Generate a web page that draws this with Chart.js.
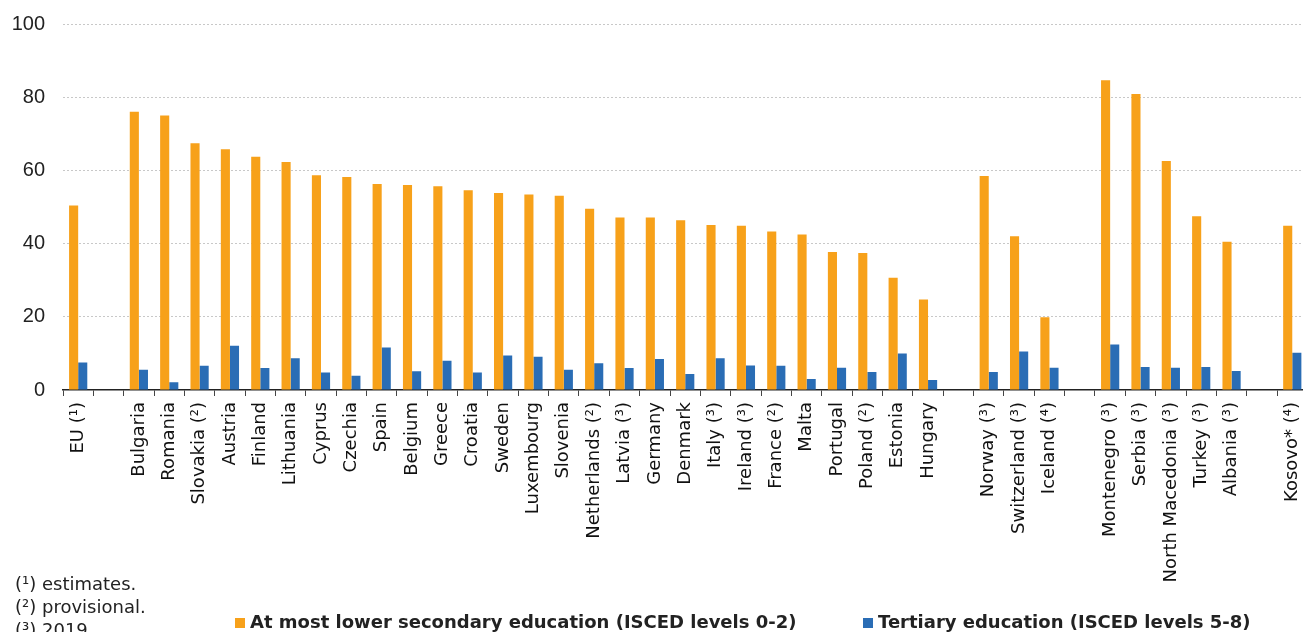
<!DOCTYPE html>
<html>
<head>
<meta charset="utf-8">
<script src="https://cdn.jsdelivr.net/npm/chart.js@4"></script>
<style>
  html, body { margin: 0; padding: 0; background: #fff; overflow: hidden; }
  #wrap { position: relative; width: 1303px; height: 632px; overflow: hidden; }
  canvas { position: absolute; left: 0; top: -6px; }
  .note { position: absolute; left: 15px; font-family: "DejaVu Sans", sans-serif; font-size: 18px; line-height: 23px; color: #222; white-space: nowrap; }
  .leg { position: absolute; top: 610px; font-family: "DejaVu Sans", sans-serif; font-weight: bold; font-size: 18px; line-height: 23px; color: #222; white-space: nowrap; }
  .sq { position: absolute; width: 10px; height: 10px; top: 618px; }
</style>
</head>
<body>
<div id="wrap">
  <canvas id="c" width="1320" height="638"></canvas>
  <div id="notes"></div>
  <div id="legend"></div>
</div>
<script>
const categories = ['EU (¹)', '', 'Bulgaria', 'Romania', 'Slovakia (²)', 'Austria', 'Finland', 'Lithuania', 'Cyprus', 'Czechia', 'Spain', 'Belgium', 'Greece', 'Croatia', 'Sweden', 'Luxembourg', 'Slovenia', 'Netherlands (²)', 'Latvia (³)', 'Germany', 'Denmark', 'Italy (³)', 'Ireland (³)', 'France (²)', 'Malta', 'Portugal', 'Poland (²)', 'Estonia', 'Hungary', '', 'Norway (³)', 'Switzerland (³)', 'Iceland (⁴)', '', 'Montenegro (³)', 'Serbia (³)', 'North Macedonia (³)', 'Turkey (³)', 'Albania (³)', '', 'Kosovo* (⁴)'];

const lowerSecondary = [50.4, null, 76.0, 75.0, 67.4, 65.8, 63.7, 62.3, 58.7, 58.2, 56.3, 56.0, 55.7, 54.6, 53.8, 53.4, 53.1, 49.5, 47.1, 47.1, 46.4, 45.1, 44.9, 43.3, 42.5, 37.7, 37.4, 30.7, 24.7, null, 58.5, 42.0, 19.9, null, 84.6, 80.9, 62.6, 47.5, 40.5, null, 44.9];

const tertiary = [7.5, null, 5.5, 2.1, 6.6, 12.1, 6.0, 8.7, 4.8, 3.9, 11.6, 5.1, 8.0, 4.8, 9.4, 9.1, 5.5, 7.3, 6.0, 8.5, 4.4, 8.7, 6.7, 6.6, 3.0, 6.1, 4.9, 10.0, 2.7, null, 4.9, 10.5, 6.1, null, 12.4, 6.3, 6.1, 6.3, 5.2, null, 10.2];

const yTicks = [0, 20, 40, 60, 80, 100];

const seriesNames = ['At most lower secondary education (ISCED levels 0-2)', 'Tertiary education (ISCED levels 5-8)'];
const seriesColors = ['#F7A11A', '#2A6DB5'];

const footnotes = ['(¹) estimates.', '(²) provisional.', '(³) 2019.'];

// footnotes
const notes = document.getElementById('notes');
footnotes.forEach((t, i) => {
  const d = document.createElement('div');
  d.className = 'note';
  d.style.top = (572 + i * 23) + 'px';
  d.textContent = t;
  notes.appendChild(d);
});

// legend
const legend = document.getElementById('legend');
const legX = [235, 863];
seriesNames.forEach((name, i) => {
  const s = document.createElement('div');
  s.className = 'sq';
  s.style.left = legX[i] + 'px';
  s.style.background = seriesColors[i];
  legend.appendChild(s);
  const t = document.createElement('div');
  t.className = 'leg';
  t.style.left = (legX[i] + 15) + 'px';
  t.textContent = name;
  legend.appendChild(t);
});

new Chart(document.getElementById('c'), {
  type: 'bar',
  data: {
    labels: categories,
    datasets: [
      { label: seriesNames[0], data: lowerSecondary, backgroundColor: seriesColors[0], categoryPercentage: 0.6, barPercentage: 1.0 },
      { label: seriesNames[1], data: tertiary, backgroundColor: seriesColors[1], categoryPercentage: 0.6, barPercentage: 1.0 }
    ]
  },
  options: {
    responsive: false,
    animation: false,
    devicePixelRatio: 1,
    layout: { padding: { left: 0, right: 11, top: 17, bottom: 0 } },
    plugins: { legend: { display: false }, tooltip: { enabled: false } },
    scales: {
      x: {
        offset: true,
        grid: { offset: true, drawOnChartArea: false, drawTicks: true, tickLength: 6, color: '#444', lineWidth: 1 },
        border: { display: true, color: '#222', width: 1.5 },
        ticks: {
          autoSkip: false, maxRotation: 90, minRotation: 90, padding: 6,
          color: '#111', font: { family: 'DejaVu Sans', size: 18 }
        },
        afterFit: (s) => { s.height = 242; }
      },
      y: {
        min: 0, max: 100,
        afterBuildTicks: (s) => { s.ticks = yTicks.map(v => ({ value: v })); },
        grid: {
          drawTicks: false,
          color: (ctx) => ctx.tick && ctx.tick.value === 0 ? 'rgba(0,0,0,0)' : '#c8c8c8',
          lineWidth: 1
        },
        border: { display: false, dash: [2, 2] },
        ticks: { padding: 18, color: '#222', font: { family: 'Liberation Sans', size: 20 } },
        afterFit: (s) => { s.width = 63; }
      }
    }
  }
});
</script>
</body>
</html>
